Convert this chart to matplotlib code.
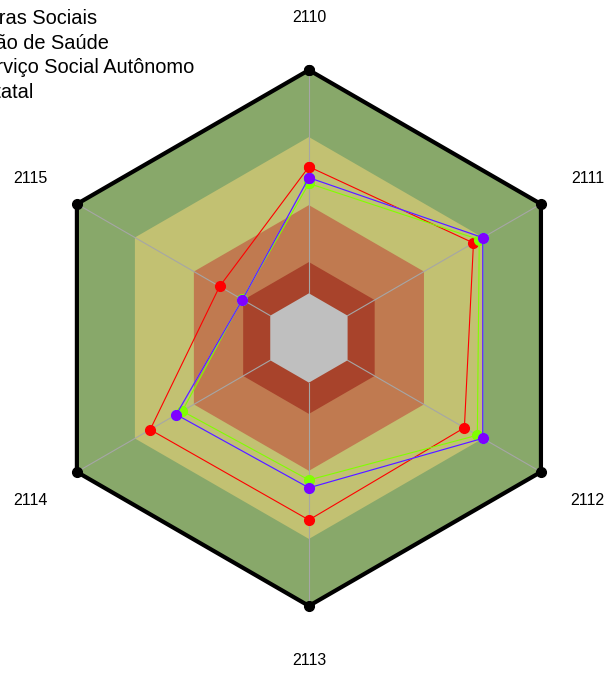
import numpy as np
import matplotlib
matplotlib.use('Agg')
import matplotlib.pyplot as plt
from matplotlib.lines import Line2D

plt.rcParams['font.family'] = ['Liberation Sans', 'DejaVu Sans']

anos = ['2110', '2111', '2112', '2113', '2114', '2115']
series = ['Obras Sociais', 'Ação de Saúde', 'Serviço Social Autônomo', 'Estatal']
cores = ['#FF0000', '#80FF00', '#00FFFF', '#8000FF']

obras = [0.567, 0.651, 0.604, 0.615, 0.621, 0.262]
saude = [0.492, 0.681, 0.671, 0.436, 0.455, 0.146]
autonomo = [0.518, 0.699, 0.699, 0.471, 0.486, 0.144]
estatal = [0.518, 0.699, 0.699, 0.471, 0.486, 0.144]

# faixas (limite externo) e cores
faixas = [1.0, 0.70, 0.395, 0.14, 0.0]
cores_faixas = ['#88A86A', '#C2C172', '#C07A50', '#A8432B', '#BFBFBF']

n = len(anos)
ang = np.arange(n) * 2 * np.pi / n
ang_f = np.append(ang, ang[0])

fig = plt.figure(figsize=(6.11, 6.73), dpi=100)
ax = fig.add_axes([0.0671, 0.0996, 0.877, 0.7964], projection='polar')
ax.set_theta_offset(np.pi / 2)
ax.set_theta_direction(-1)
ax.set_ylim(0, 1)
ax.set_rorigin(-0.2)
ax.axis('off')

for r, c in zip(faixas, cores_faixas):
    ax.fill(ang_f, [r] * (n + 1), color=c, lw=0, clip_on=False, zorder=1)

for a in ang:
    ax.plot([a, a], [0, 1], color='#A6A6A6', lw=0.8, clip_on=False, zorder=2)

ax.plot(ang_f, [1] * (n + 1), color='black', lw=3, marker='o', ms=7,
        clip_on=False, zorder=3)

for vals, c in zip([obras, saude, autonomo, estatal], cores):
    v = list(vals) + [vals[0]]
    ax.plot(ang_f, v, color=c, lw=0.8, marker='o', ms=7, clip_on=False, zorder=4)

for a, t in zip(ang, anos):
    ax.text(a, 1.24, t, ha='center', va='center_baseline', fontsize=11.5,
            clip_on=False)

handles = [Line2D([], [], color=c, marker='o', ms=7, lw=0) for c in cores]
fig.legend(handles, series, loc='upper left', bbox_to_anchor=(-0.095, 0.987),
           frameon=False, fontsize=14.4, handlelength=1, handletextpad=0.5,
           borderpad=0, borderaxespad=0, labelspacing=0.29)

fig.savefig('out.png', dpi=100)
